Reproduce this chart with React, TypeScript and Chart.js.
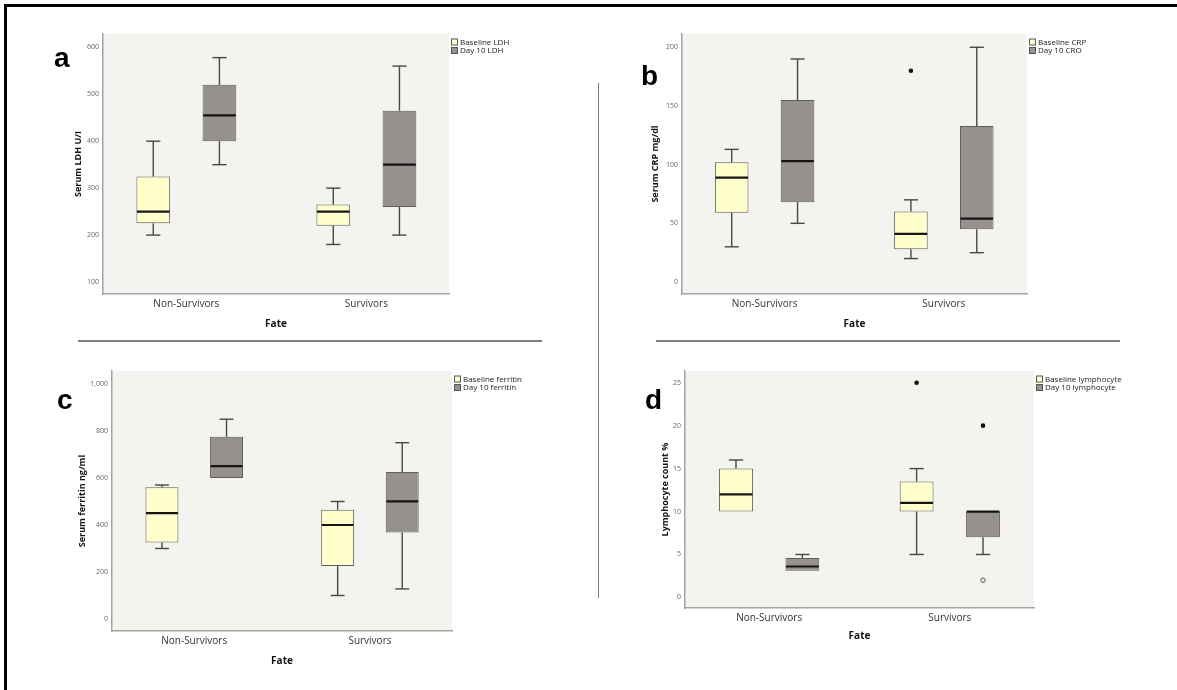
import React, { useEffect, useRef } from 'react';
import { Chart, registerables } from 'chart.js';

Chart.register(...registerables);

// ---------- data ----------
const categories = ['Non-Survivors', 'Survivors'];

// five-number summaries per category: [min, q1, median, q3, max]
const ldhBaseline = [[200, 225, 250, 325, 400], [180, 220, 250, 265, 300]];
const ldhDay10 = [[350, 400, 455, 520, 578], [200, 260, 350, 465, 560]];

const crpBaseline = [[30, 59, 89, 102, 113], [20, 28, 41, 60, 70]];
const crpDay10 = [[50, 68, 103, 155, 190], [25, 45, 54, 133, 200]];
const crpBaselineExtremes = [[], [180]];

const ferritinBaseline = [[300, 325, 450, 560, 570], [100, 225, 400, 465, 500]];
const ferritinDay10 = [[600, 600, 650, 775, 850], [128, 368, 500, 625, 750]];

const lymphBaseline = [[10, 10, 12, 15, 16], [5, 10, 11, 13.5, 15]];
const lymphDay10 = [[3.1, 3.1, 3.6, 4.6, 5], [5, 7, 10, 10, 10]];
const lymphBaselineExtremes = [[], [25]];
const lymphDay10Extremes = [[], [20]];
const lymphDay10Outliers = [[], [2]];

const ldhTicks = [100, 200, 300, 400, 500, 600];
const crpTicks = [0, 50, 100, 150, 200];
const ferritinTicks = [0, 200, 400, 600, 800, 1000];
const lymphTicks = [0, 5, 10, 15, 20, 25];

const none: number[][] = [[], []];

// ---------- styles ----------
const FONT = '"Open Sans", "DejaVu Sans", sans-serif';
const BASE_FILL = '#ffffcc';
const DAY_FILL = '#96918f';
const PLOT_BG = '#f3f3ef';

type Series = { label: string; stats: number[][]; extremes: number[][]; outliers: number[][]; fill: string };
type Panel = {
  letter: string;
  letterPos: [number, number];
  plot: { l: number; t: number; r: number; b: number };
  xRange: [number, number];
  yRange: [number, number];
  yTicks: number[];
  yTitle: string;
  yTitleOffset: number;
  xTitlePad: number;
  series: Series[];
};

const panels: Panel[] = [
  {
    letter: 'a', letterPos: [54, 44],
    plot: { l: 103, t: 34, r: 449, b: 294 },
    xRange: [-0.463, 1.459], yRange: [74.5, 628.3], yTicks: ldhTicks,
    yTitle: 'Serum LDH U/I', yTitleOffset: 24.3, xTitlePad: 8.5,
    series: [
      { label: 'Baseline LDH', stats: ldhBaseline, extremes: none, outliers: none, fill: BASE_FILL },
      { label: 'Day 10 LDH', stats: ldhDay10, extremes: none, outliers: none, fill: DAY_FILL },
    ],
  },
  {
    letter: 'b', letterPos: [641, 62],
    plot: { l: 682, t: 34, r: 1027, b: 294 },
    xRange: [-0.461, 1.464], yRange: [-10.2, 211.3], yTicks: crpTicks,
    yTitle: 'Serum CRP mg/dl', yTitleOffset: 26.7, xTitlePad: 8.5,
    series: [
      { label: 'Baseline CRP', stats: crpBaseline, extremes: crpBaselineExtremes, outliers: none, fill: BASE_FILL },
      { label: 'Day 10 CRO', stats: crpDay10, extremes: none, outliers: none, fill: DAY_FILL },
    ],
  },
  {
    letter: 'c', letterPos: [57, 386],
    plot: { l: 112, t: 371, r: 452, b: 631 },
    xRange: [-0.468, 1.467], yRange: [-51, 1055], yTicks: ferritinTicks,
    yTitle: 'Serum ferritin ng/ml', yTitleOffset: 30, xTitlePad: 9,
    series: [
      { label: 'Baseline ferritin', stats: ferritinBaseline, extremes: none, outliers: none, fill: BASE_FILL },
      { label: 'Day 10 ferritin', stats: ferritinDay10, extremes: none, outliers: none, fill: DAY_FILL },
    ],
  },
  {
    letter: 'd', letterPos: [645, 386],
    plot: { l: 685, t: 371, r: 1034, b: 608 },
    xRange: [-0.466, 1.466], yRange: [-1.23, 26.36], yTicks: lymphTicks,
    yTitle: 'Lymphocyte count %', yTitleOffset: 20, xTitlePad: 11,
    series: [
      { label: 'Baseline lymphocyte', stats: lymphBaseline, extremes: lymphBaselineExtremes, outliers: none, fill: BASE_FILL },
      { label: 'Day 10 lymphocyte', stats: lymphDay10, extremes: lymphDay10Extremes, outliers: lymphDay10Outliers, fill: DAY_FILL },
    ],
  },
];

// ---------- plugins ----------
const bgPlugin = {
  id: 'plotBg',
  beforeDraw(chart: any) {
    const { ctx, chartArea: a } = chart;
    ctx.save();
    ctx.fillStyle = PLOT_BG;
    ctx.fillRect(a.left, a.top, a.right - a.left, a.bottom - a.top);
    ctx.restore();
  },
};

const boxPlugin = {
  id: 'boxWhiskers',
  afterDatasetsDraw(chart: any) {
    const ctx = chart.ctx;
    const ys = chart.scales.y;
    chart.data.datasets.forEach((ds: any, di: number) => {
      const meta = chart.getDatasetMeta(di);
      meta.data.forEach((bar: any, i: number) => {
        const [mn, q1, med, q3, mx] = ds.stats[i];
        const { x, width } = bar.getProps(['x', 'width'], true);
        const cap = width * 0.42;
        const line = (x1: number, y1: number, x2: number, y2: number) => {
          ctx.beginPath();
          ctx.moveTo(x1, y1);
          ctx.lineTo(x2, y2);
          ctx.stroke();
        };
        ctx.save();
        ctx.strokeStyle = '#474747';
        ctx.lineWidth = 1.4;
        if (mx > q3) {
          const yTop = ys.getPixelForValue(mx);
          line(x, ys.getPixelForValue(q3), x, yTop);
          line(x - cap / 2, yTop, x + cap / 2, yTop);
        }
        if (mn < q1) {
          const yBot = ys.getPixelForValue(mn);
          line(x, ys.getPixelForValue(q1), x, yBot);
          line(x - cap / 2, yBot, x + cap / 2, yBot);
        }
        ctx.strokeStyle = '#151515';
        ctx.lineWidth = 2.2;
        const ym = ys.getPixelForValue(med);
        line(x - width / 2 + 0.5, ym, x + width / 2 - 0.5, ym);
        (ds.extremes[i] || []).forEach((v: number) => {
          ctx.fillStyle = '#111';
          ctx.beginPath();
          ctx.arc(x, ys.getPixelForValue(v), 2.3, 0, Math.PI * 2);
          ctx.fill();
        });
        (ds.outliers[i] || []).forEach((v: number) => {
          ctx.strokeStyle = '#555';
          ctx.lineWidth = 1;
          ctx.fillStyle = PLOT_BG;
          ctx.beginPath();
          ctx.arc(x, ys.getPixelForValue(v), 2.2, 0, Math.PI * 2);
          ctx.fill();
          ctx.stroke();
        });
        ctx.restore();
      });
    });
  },
};

const legendPlugin = {
  id: 'sideLegend',
  afterDraw(chart: any) {
    const { ctx, chartArea: a } = chart;
    ctx.save();
    chart.data.datasets.forEach((ds: any, i: number) => {
      const cy = a.top + 8 + i * 8.5;
      const sx = a.right + 2;
      ctx.fillStyle = ds.backgroundColor;
      ctx.fillRect(sx, cy - 3.5, 7, 7);
      ctx.strokeStyle = '#555';
      ctx.lineWidth = 1;
      ctx.strokeRect(sx + 0.5, cy - 3, 6, 6);
      ctx.fillStyle = '#222';
      ctx.font = `8px ${FONT}`;
      ctx.textAlign = 'left';
      ctx.textBaseline = 'middle';
      ctx.fillText(ds.label, sx + 9, cy + 0.5);
    });
    ctx.restore();
  },
};

// ---------- components ----------
const AXIS_W = 60;
const AXIS_H = 45;
const PAD_T = 10;
const PAD_R = 110;

function BoxPanel({ p }: { p: Panel }) {
  const ref = useRef<HTMLCanvasElement>(null);
  const left = p.plot.l - AXIS_W;
  const top = p.plot.t - PAD_T;
  const width = p.plot.r - p.plot.l + AXIS_W + PAD_R;
  const height = p.plot.b - p.plot.t + PAD_T + AXIS_H;

  useEffect(() => {
    if (!ref.current) return;
    const titleLh = 9 * 1.2;
    const chart = new Chart(ref.current, {
      type: 'bar',
      data: {
        datasets: p.series.map((s) => ({
          label: s.label,
          data: s.stats.map((st, i) => ({ x: i, y: [st[1], st[3]] })),
          stats: s.stats,
          extremes: s.extremes,
          outliers: s.outliers,
          backgroundColor: s.fill,
          borderColor: '#5e5e5e',
          borderWidth: 1,
          borderSkipped: false,
          categoryPercentage: 0.735,
          barPercentage: 0.51,
        })) as any,
      },
      options: {
        responsive: false,
        animation: false,
        devicePixelRatio: 1,
        layout: { padding: { left: 0, top: PAD_T, right: PAD_R, bottom: 0 } },
        plugins: { legend: { display: false }, tooltip: { enabled: false } },
        scales: {
          x: {
            type: 'linear',
            position: 'bottom',
            offset: false,
            min: p.xRange[0],
            max: p.xRange[1],
            grid: { display: false, drawTicks: false, offset: false },
            border: { display: true, color: '#a3a3a3', width: 1.5 },
            afterBuildTicks: (s: any) => {
              s.ticks = categories.map((_, i) => ({ value: i }));
            },
            ticks: {
              autoSkip: false,
              maxRotation: 0,
              padding: 4,
              color: '#333',
              font: { family: FONT, size: 10 },
              callback: (v: any) => categories[v] ?? '',
            },
            title: {
              display: true,
              text: 'Fate',
              color: '#111',
              font: { family: FONT, size: 10, weight: 'bold' },
              padding: { top: 0, bottom: p.xTitlePad },
            },
            afterFit: (s: any) => {
              s.height = AXIS_H;
            },
          },
          y: {
            type: 'linear',
            position: 'left',
            min: p.yRange[0],
            max: p.yRange[1],
            grid: { display: false, drawTicks: false },
            border: { display: true, color: '#a3a3a3', width: 1.5 },
            afterBuildTicks: (s: any) => {
              s.ticks = p.yTicks.map((v) => ({ value: v }));
            },
            ticks: {
              padding: 4,
              color: '#666',
              font: { family: FONT, size: 7 },
              callback: (v: any) => Number(v).toLocaleString('en-US'),
            },
            title: {
              display: true,
              text: p.yTitle,
              color: '#111',
              font: { family: FONT, size: 9, weight: 'bold' },
              padding: { top: AXIS_W - p.yTitleOffset - titleLh / 2, bottom: 0 },
            },
            afterFit: (s: any) => {
              s.width = AXIS_W;
            },
          },
        },
      } as any,
      plugins: [bgPlugin, boxPlugin, legendPlugin],
    });
    return () => chart.destroy();
  }, []);

  return (
    <canvas
      ref={ref}
      width={width}
      height={height}
      style={{ position: 'absolute', left, top, width, height }}
    />
  );
}

export default function App() {
  return (
    <div style={{ position: 'absolute', left: 0, top: 0, width: 1177, height: 690, background: '#fff', overflow: 'hidden' }}>
      {/* frame */}
      <div style={{ position: 'absolute', left: 4, top: 4, width: 1173, height: 2.5, background: '#000' }} />
      <div style={{ position: 'absolute', left: 4, top: 4, width: 2.5, height: 686, background: '#000' }} />
      {/* separators */}
      <div style={{ position: 'absolute', left: 78, top: 340, width: 464, height: 1.5, background: '#808080' }} />
      <div style={{ position: 'absolute', left: 655.5, top: 340, width: 464, height: 1.5, background: '#808080' }} />
      <div style={{ position: 'absolute', left: 597.5, top: 83, width: 1.5, height: 515, background: '#808080' }} />
      {panels.map((p) => (
        <BoxPanel key={p.letter} p={p} />
      ))}
      {panels.map((p) => (
        <div
          key={'l' + p.letter}
          style={{
            position: 'absolute',
            left: p.letterPos[0],
            top: p.letterPos[1],
            fontFamily: '"Liberation Sans", Arial, sans-serif',
            fontWeight: 'bold',
            fontSize: 28,
            lineHeight: '28px',
            color: '#000',
          }}
        >
          {p.letter}
        </div>
      ))}
    </div>
  );
}
